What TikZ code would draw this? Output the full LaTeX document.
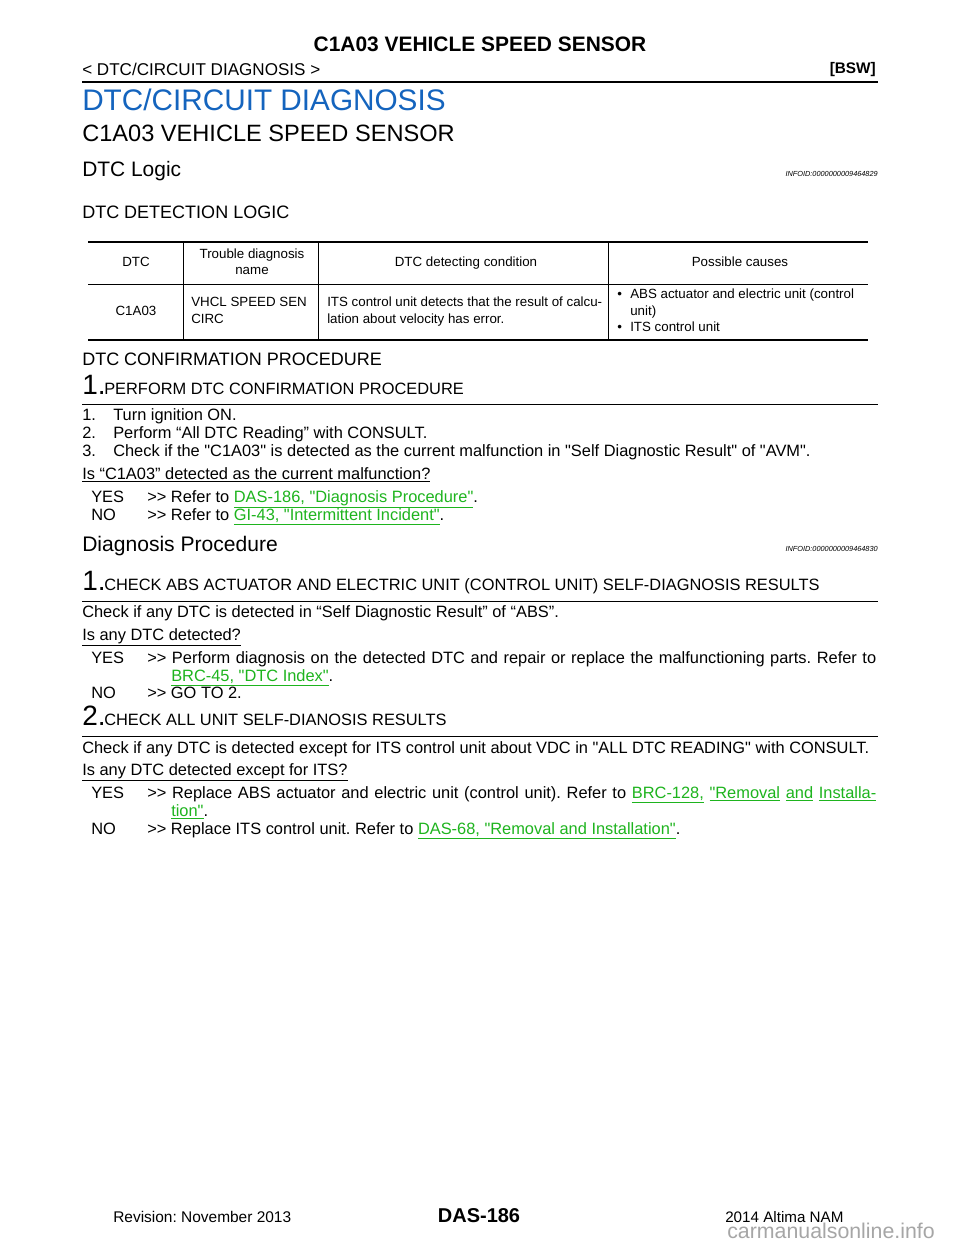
\documentclass[tikz,border=0pt]{standalone}
\usepackage{fontspec}
\setmainfont{Liberation Sans}[Ligatures=TeXOff]
\frenchspacing
\definecolor{hblue}{RGB}{20,100,190}
\definecolor{lgreen}{RGB}{30,180,30}
\newcommand\tx[3]{\node[anchor=base west,inner sep=0pt] at (#1,#2) {#3};}
\newcommand\tc[3]{\node[anchor=base,inner sep=0pt] at (#1,#2) {#3};}
\newcommand\lnk[1]{\textcolor{lgreen}{\underline{#1}}}
\newcommand\bod{\fontsize{12.3}{14}\selectfont}
\newcommand\sml{\fontsize{10}{11}\selectfont}
\newcommand\gtgt{{>}{>}}
\begin{document}
\begin{tikzpicture}[x=0.75pt,y=-0.75pt]
\useasboundingbox[fill=white] (0,0) rectangle (960,1242);
% header
\tc{480}{51}{\fontsize{15.7}{17}\selectfont\bfseries C1A03 VEHICLE SPEED SENSOR}
\tx{82}{75}{\fontsize{12.8}{14}\selectfont < DTC/CIRCUIT DIAGNOSIS >}
\node[anchor=base east,inner sep=0pt] at (876,73) {\fontsize{11.5}{13}\selectfont\bfseries [BSW]};
\draw[line width=1.5pt] (82,82) -- (878,82);
\tx{82}{110}{\fontsize{22.3}{26}\selectfont\color{hblue}DTC/CIRCUIT DIAGNOSIS}
\tx{82}{141}{\fontsize{17.7}{21}\selectfont C1A03 VEHICLE SPEED SENSOR}
\tx{82}{176}{\fontsize{15.7}{18}\selectfont DTC Logic}
\node[anchor=base east,inner sep=0pt] at (878,176) {\fontsize{5.5}{6}\selectfont\itshape INFOID:0000000009464829};
\tx{82}{218}{\fontsize{13.5}{15}\selectfont DTC DETECTION LOGIC}
% table
\draw[line width=1.5pt] (88,242) -- (868,242);
\draw[line width=0.5pt] (88,284) -- (868,284);
\draw[line width=1.5pt] (88,340) -- (868,340);
\foreach \xx in {183,318,608} \draw[line width=0.4pt] (\xx,242) -- (\xx,340);
\tc{136}{266}{\sml DTC}
\tc{252}{258}{\sml Trouble diagnosis}
\tc{252}{274}{\sml name}
\tc{466}{266}{\sml DTC detecting condition}
\tc{740}{266}{\sml Possible causes}
\tc{136}{315}{\sml C1A03}
\tx{191}{306}{\sml VHCL SPEED SEN}
\tx{191}{323}{\sml CIRC}
\tx{327}{306}{\sml ITS control unit detects that the result of calcu-}
\tx{327}{323}{\sml lation about velocity has error.}
\tx{617}{298}{\sml •}
\tx{630}{298}{\sml ABS actuator and electric unit (control}
\tx{630}{315}{\sml unit)}
\tx{617}{331}{\sml •}
\tx{630}{331}{\sml ITS control unit}
\tx{82}{365}{\fontsize{13.5}{15}\selectfont DTC CONFIRMATION PROCEDURE}
\tx{82}{394}{\fontsize{21}{24}\selectfont 1.}
\tx{104}{394}{\bod PERFORM DTC CONFIRMATION PROCEDURE}
\draw[line width=0.6pt] (82,404) -- (878,404);
\tx{82}{420}{\bod 1.}\tx{113}{420}{\bod Turn ignition ON.}
\tx{82}{438}{\bod 2.}\tx{113}{438}{\bod Perform “All DTC Reading” with CONSULT.}
\tx{82}{456}{\bod 3.}\tx{113}{456}{\bod Check if the "C1A03" is detected as the current malfunction in "Self Diagnostic Result" of "AVM".}
\tx{82}{479}{\bod\underline{Is “C1A03” detected as the current malfunction?}}
\tx{91}{502}{\bod YES}\tx{147}{502}{\bod \gtgt{} Refer to \lnk{DAS-186, "Diagnosis Procedure"}.}
\tx{91}{520}{\bod NO}\tx{147}{520}{\bod \gtgt{} Refer to \lnk{GI-43, "Intermittent Incident"}.}
\tx{82}{551}{\fontsize{15.8}{18}\selectfont Diagnosis Procedure}
\node[anchor=base east,inner sep=0pt] at (878,551) {\fontsize{5.5}{6}\selectfont\itshape INFOID:0000000009464830};
\tx{82}{590}{\fontsize{21}{24}\selectfont 1.}
\tx{104}{590}{\bod CHECK ABS ACTUATOR AND ELECTRIC UNIT (CONTROL UNIT) SELF-DIAGNOSIS RESULTS}
\draw[line width=0.6pt] (82,601) -- (878,601);
\tx{82}{617}{\bod Check if any DTC is detected in “Self Diagnostic Result” of “ABS”.}
\tx{82}{640}{\bod\underline{Is any DTC detected?}}
\tx{91}{663}{\bod YES}\tx{147}{663}{\bod\makebox[729\dimexpr0.75pt\relax][s]{\gtgt{} Perform diagnosis on the detected DTC and repair or replace the malfunctioning parts. Refer to}}
\tx{171}{681}{\bod\lnk{BRC-45, "DTC Index"}.}
\tx{91}{698}{\bod NO}\tx{147}{698}{\bod \gtgt{} GO TO 2.}
\tx{82}{725}{\fontsize{21}{24}\selectfont 2.}
\tx{104}{725}{\bod CHECK ALL UNIT SELF-DIANOSIS RESULTS}
\draw[line width=0.6pt] (82,736) -- (878,736);
\tx{82}{753}{\bod Check if any DTC is detected except for ITS control unit about VDC in "ALL DTC READING" with CONSULT.}
\tx{82}{775}{\bod\underline{Is any DTC detected except for ITS?}}
\tx{91}{798}{\bod YES}\tx{147}{798}{\bod\makebox[729\dimexpr0.75pt\relax][s]{\gtgt{} Replace ABS actuator and electric unit (control unit). Refer to \textcolor{lgreen}{\underline{BRC-128,}} \textcolor{lgreen}{\underline{"Removal}} \textcolor{lgreen}{\underline{and}} \textcolor{lgreen}{\underline{Installa-}}}}
\tx{171}{816}{\bod\lnk{tion"}.}
\tx{91}{834}{\bod NO}\tx{147}{834}{\bod \gtgt{} Replace ITS control unit. Refer to \lnk{DAS-68, "Removal and Installation"}.}
% footer
\tx{113}{1222}{\fontsize{11.6}{13}\selectfont Revision: November 2013}
\tc{479}{1222}{\fontsize{15}{17}\selectfont\bfseries DAS-186}
\tx{725}{1222}{\fontsize{11.4}{13}\selectfont 2014 Altima NAM}
\tx{727}{1238}{\fontsize{16}{19}\selectfont\color{black!35}carmanualsonline.info}
\end{tikzpicture}
\end{document}
